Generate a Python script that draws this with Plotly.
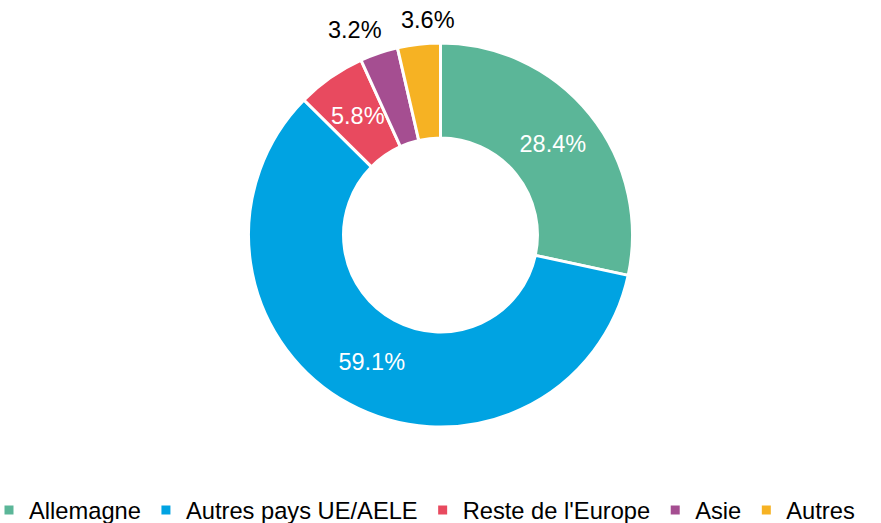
import math
import plotly.graph_objects as go

labels = ["Allemagne", "Autres pays UE/AELE", "Reste de l'Europe", "Asie", "Autres"]
values = [28.4, 59.1, 5.8, 3.2, 3.6]
colors = ["#5BB698", "#00A3E2", "#E84A5F", "#A54E91", "#F6B223"]
# where each slice's value label goes: in the ring (plotly), ring middle, outside end
label_mode = ["pie", "pie", "mid", "outside", "outside"]

FONT = "Liberation Sans, Arial, sans-serif"
W, H = 881, 523
CX, CY = 440.5, 235   # pie centre, px from top-left
R_OUT = 192           # outer radius, px
HOLE = 0.505
R_IN = R_OUT * HOLE
LBL_SIZE = 23.5

pie_text = [f"{v:.1f}%" if m == "pie" else "" for v, m in zip(values, label_mode)]

fig = go.Figure()
fig.add_trace(go.Pie(
    labels=labels,
    values=values,
    hole=HOLE,
    sort=False,
    direction="clockwise",
    rotation=0,
    marker=dict(colors=colors, line=dict(color="white", width=3)),
    text=pie_text,
    textinfo="text",
    textposition="inside",
    insidetextorientation="horizontal",
    insidetextfont=dict(family=FONT, size=LBL_SIZE, color="white"),
    domain=dict(x=[0, 1], y=[(H - CY - R_OUT) / H, (H - CY + R_OUT) / H]),
    hoverinfo="label+percent",
))

# remaining labels, placed at each slice's mid angle
total = sum(values)
cum = 0.0
for v, m in zip(values, label_mode):
    mid = (cum + v / 2) / total
    cum += v
    if m == "pie":
        continue
    theta = 2 * math.pi * mid           # clockwise from 12 o'clock
    s, c = math.sin(theta), math.cos(theta)
    if m == "mid":
        r = (R_OUT + R_IN) / 2
        xanchor, yanchor, xshift, col = "center", "middle", 0, "white"
    else:
        r = R_OUT + 9
        xanchor = "right" if s < -0.2 else ("left" if s > 0.2 else "center")
        yanchor = "bottom"
        xshift = 10 if xanchor == "center" else 8
        col = "black"
    px = CX + r * s
    py = CY - r * c
    fig.add_annotation(
        x=px / W, y=1 - py / H, xref="paper", yref="paper",
        text=f"{v:.1f}%", showarrow=False,
        xanchor=xanchor, yanchor=yanchor, xshift=xshift,
        font=dict(family=FONT, size=LBL_SIZE, color=col),
    )

fig.update_layout(
    width=W, height=H,
    margin=dict(l=0, r=0, t=0, b=0, autoexpand=False),
    paper_bgcolor="white",
    plot_bgcolor="white",
    uniformtext=dict(minsize=LBL_SIZE, mode="show"),
    font=dict(family=FONT, size=23, color="black"),
    legend=dict(
        orientation="h",
        x=-11 / W, xanchor="left",
        y=-9 / H, yanchor="bottom",
        font=dict(family=FONT, size=23.7, color="black"),
        traceorder="normal",
    ),
)

fig.write_html(
    "out.html",
    config={"displayModeBar": False},
    post_script="document.body.style.margin='0';document.body.style.overflow='hidden';",
)
